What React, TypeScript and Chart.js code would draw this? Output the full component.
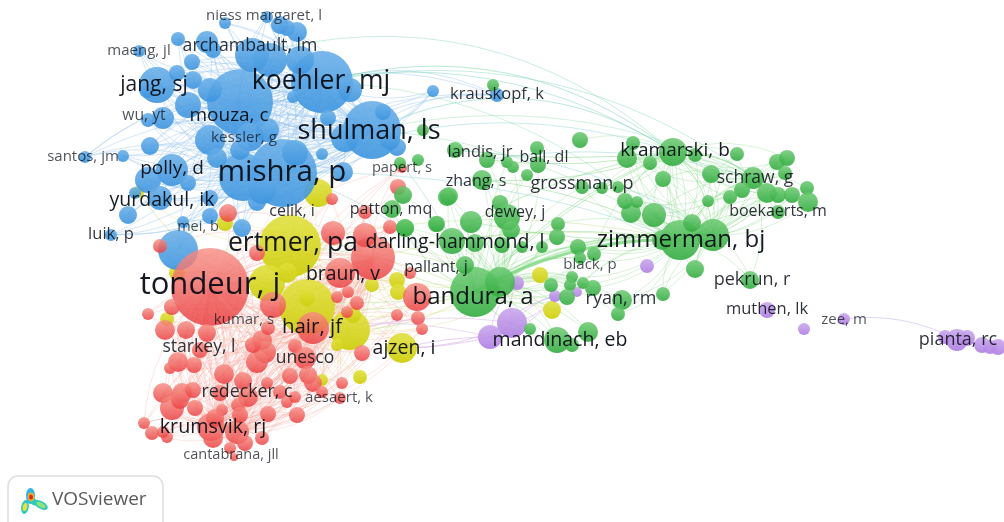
import React, { useEffect, useRef } from "react";
import { Chart, registerables } from "chart.js";

Chart.register(...registerables);

type N = [number, number, number];

// [x, y, weight]; the first entries of each list are the hubs
const blueNodes: N[] = [
  [322, 82, 31], [283, 173, 34], [372, 130, 29], [240, 102, 33], [243, 177, 24], [252, 55, 17], [270, 60, 17],
  [157, 85, 18], [147, 90, 8], [188, 105, 13], [192, 62, 8], [178, 39, 7], [207, 42, 11], [213, 50, 8], [225, 23, 6],
  [267, 17, 6], [280, 25, 9], [287, 28, 8], [297, 32, 10], [139, 51, 6], [177, 73, 8], [193, 80, 9], [163, 118, 11],
  [148, 120, 7], [150, 146, 9], [123, 156, 6], [85, 157, 6], [210, 140, 15], [250, 137, 14], [267, 130, 12],
  [217, 158, 10], [240, 150, 10], [295, 153, 13], [343, 172, 10], [322, 154, 6], [328, 118, 8], [293, 97, 6],
  [350, 90, 12], [383, 112, 8], [397, 147, 9], [433, 91, 6], [497, 95, 7], [172, 170, 16], [148, 180, 13],
  [188, 183, 8], [160, 198, 12], [135, 193, 6], [210, 198, 8], [210, 216, 8], [183, 222, 6], [128, 215, 9],
  [111, 235, 6], [242, 228, 9], [257, 202, 9], [178, 250, 20], [345, 138, 14], [390, 140, 10], [300, 60, 14],
  [210, 90, 12], [262, 190, 14],
];

const redNodes: N[] = [
  [210, 287, 39], [373, 258, 22], [313, 328, 16], [211, 427, 14], [237, 432, 12], [340, 273, 15], [417, 297, 14],
  [273, 305, 13], [348, 292, 6], [337, 297, 6], [357, 303, 7], [347, 312, 6], [397, 315, 6], [418, 318, 7], [422, 329, 6],
  [410, 273, 6], [148, 314, 6], [172, 307, 8], [165, 330, 10], [186, 330, 9], [207, 333, 9], [200, 350, 8],
  [262, 340, 10], [265, 352, 11], [257, 362, 11], [268, 328, 7], [295, 346, 7], [305, 358, 11], [362, 353, 8],
  [178, 362, 10], [194, 365, 8], [170, 368, 6], [224, 374, 10], [290, 376, 8], [308, 375, 9], [313, 383, 9],
  [243, 381, 9], [267, 383, 6], [342, 383, 6], [163, 393, 10], [182, 393, 10], [193, 390, 8], [220, 393, 8],
  [248, 397, 10], [280, 392, 7], [287, 402, 6], [295, 397, 6], [322, 392, 6], [340, 398, 6], [172, 408, 12],
  [195, 408, 8], [222, 410, 6], [238, 405, 7], [240, 415, 8], [268, 414, 8], [297, 415, 8], [144, 423, 6],
  [152, 433, 7], [167, 437, 6], [213, 438, 10], [245, 443, 8], [262, 438, 7], [230, 448, 6], [234, 457, 4],
  [228, 213, 9], [332, 199, 6], [398, 187, 8], [402, 168, 5], [365, 212, 7], [333, 233, 12], [365, 235, 12],
  [390, 227, 7], [160, 246, 7], [257, 253, 8], [180, 400, 9], [215, 418, 9], [163, 432, 6], [253, 345, 8],
];

const greenNodes: N[] = [
  [680, 240, 20], [475, 292, 25], [673, 152, 14], [713, 235, 16], [500, 282, 15], [753, 178, 11],
  [493, 85, 6], [423, 130, 6], [580, 140, 8], [455, 150, 8], [487, 160, 8], [537, 148, 7], [538, 165, 8],
  [507, 162, 6], [513, 167, 6], [527, 175, 6], [400, 163, 6], [418, 160, 6], [482, 180, 10], [449, 196, 9],
  [500, 203, 8], [507, 217, 13], [511, 230, 9], [471, 222, 11], [436, 224, 8], [405, 228, 9], [558, 224, 7],
  [557, 237, 8], [452, 241, 13], [475, 243, 9], [502, 245, 8], [522, 247, 6], [542, 247, 6], [578, 247, 8],
  [594, 254, 7], [580, 258, 6], [465, 265, 9], [572, 277, 6], [551, 285, 7], [570, 285, 6], [583, 283, 6],
  [593, 288, 8], [567, 297, 8], [622, 300, 10], [663, 294, 7], [618, 314, 7], [695, 269, 9], [750, 280, 9],
  [530, 329, 6], [557, 340, 13], [572, 345, 7], [588, 332, 10], [692, 223, 9], [662, 240, 10], [654, 215, 12],
  [631, 213, 10], [625, 201, 8], [637, 202, 6], [663, 179, 8], [627, 158, 10], [650, 163, 7], [633, 143, 7],
  [695, 155, 7], [737, 154, 7], [711, 174, 9], [742, 190, 8], [730, 197, 7], [708, 201, 6], [767, 193, 10],
  [778, 195, 8], [792, 195, 8], [807, 188, 7], [808, 202, 10], [778, 212, 7], [777, 162, 8], [787, 158, 8],
  [785, 173, 7], [582, 187, 7], [602, 188, 6], [618, 187, 6], [403, 195, 9], [392, 209, 9], [405, 228, 9],
  [437, 224, 8], [447, 197, 9],
];

const yellowNodes: N[] = [
  [290, 246, 31], [307, 307, 28], [350, 330, 20], [402, 348, 15], [267, 283, 18], [318, 193, 14], [225, 223, 8],
  [138, 192, 6], [397, 280, 8], [398, 292, 8], [372, 285, 7], [167, 319, 7], [360, 377, 7], [322, 380, 6],
  [177, 273, 8], [287, 273, 10], [353, 315, 8], [337, 345, 6], [540, 275, 8], [552, 310, 9], [307, 298, 8],
];

const purpleNodes: N[] = [
  [512, 323, 15], [490, 337, 12], [647, 266, 7], [517, 283, 7], [555, 296, 6], [577, 292, 5], [767, 310, 8],
  [804, 329, 6], [844, 319, 6], [945, 337, 7], [957, 340, 11], [967, 338, 8], [982, 345, 8], [990, 347, 7], [998, 347, 8],
];

const labelNames: string[] = [
  "niess margaret, l", "maeng, jl", "archambault, lm", "jang, sj", "koehler, mj", "wu, yt", "mouza, c", "kessler, g",
  "shulman, ls", "santos, jm", "polly, d", "mishra, p", "papert, s", "yurdakul, ik", "celik, i", "patton, mq",
  "mei, b", "luik, p", "ertmer, pa", "darling-hammond, l", "tondeur, j", "braun, v", "pallant, j", "bandura, a",
  "kumar, s", "hair, jf", "ajzen, i", "starkey, l", "unesco", "redecker, c", "aesaert, k", "krumsvik, rj",
  "cantabrana, jll", "landis, jr", "ball, dl", "krauskopf, k", "kramarski, b", "zhang, s", "grossman, p", "schraw, g",
  "boekaerts, m", "dewey, j", "zimmerman, bj", "black, p", "pekrun, r", "ryan, rm", "mandinach, eb", "muthen, lk",
  "zee, m", "pianta, rc",
];
const labelX: number[] = [
  264, 139, 250, 154, 321, 144, 229, 244, 369, 83, 172, 282, 402, 162, 292, 391, 198, 111, 293, 455, 210, 343, 436, 473,
  244, 312, 404, 199, 305, 247, 339, 213, 231, 480, 544, 497, 675, 476, 582, 755, 778, 515, 681, 590, 752, 621, 560, 767,
  844, 958,
];
const labelY: number[] = [
  16, 51, 46, 85, 81, 116, 116, 138, 131, 157, 169, 173, 168, 200, 211, 209, 227, 234, 243, 242, 285, 274, 267, 297,
  320, 327, 348, 347, 358, 392, 398, 427, 455, 152, 157, 94, 151, 181, 184, 178, 211, 212, 240, 265, 280, 299, 340, 309,
  320, 340,
];
const labelWeight: number[] = [
  15, 15, 17.7, 21, 26.5, 15.7, 19, 15.3, 27, 15, 19, 29.5, 14.7, 19.5, 16, 16, 14.5, 16.5, 26.5, 19.5, 31, 19.4, 16, 24,
  15, 20.5, 19.5, 17.6, 17.5, 17.8, 15, 19.7, 14.5, 16.5, 16, 16.5, 19, 16, 18, 17.5, 16, 16, 24, 15, 18, 18, 19.5, 16.5,
  15, 18,
];

const brand = "VOSviewer";

const clusters = [
  { nodes: yellowNodes, top: "rgba(224,224,60,0.88)", bottom: "rgba(206,206,14,0.95)", link: "rgba(214,214,110,0.3)", hubs: 3, reach: 999, order: 5 },
  { nodes: blueNodes, top: "rgba(104,174,232,0.88)", bottom: "rgba(60,148,222,0.9)", link: "rgba(150,195,238,0.42)", hubs: 5, reach: 999, order: 4 },
  { nodes: redNodes, top: "rgba(246,140,130,0.8)", bottom: "rgba(234,62,64,0.84)", link: "rgba(245,165,155,0.3)", hubs: 5, reach: 999, order: 3 },
  { nodes: purpleNodes, top: "rgba(200,165,236,0.88)", bottom: "rgba(176,128,226,0.92)", link: "rgba(205,170,235,0.5)", hubs: 2, reach: 120, order: 2 },
  { nodes: greenNodes, top: "rgba(104,200,110,0.84)", bottom: "rgba(50,172,64,0.9)", link: "rgba(140,218,140,0.34)", hubs: 6, reach: 130, order: 1 },
];

// links between clusters: from, to, bend, colour, width
const bridges: [N, N, number, string, number][] = [
  [greenNodes[2], blueNodes[0], 0.25, "rgba(130,215,170,0.55)", 1],
  [greenNodes[2], blueNodes[2], 0.28, "rgba(130,215,190,0.55)", 1],
  [greenNodes[2], blueNodes[1], 0.2, "rgba(150,215,215,0.5)", 1],
  [greenNodes[2], blueNodes[3], 0.24, "rgba(130,215,190,0.5)", 1],
  [greenNodes[2], blueNodes[5], 0.27, "rgba(130,215,190,0.45)", 1],
  [greenNodes[5], blueNodes[0], 0.22, "rgba(130,215,190,0.45)", 1],
  [greenNodes[5], blueNodes[2], 0.18, "rgba(150,225,180,0.45)", 1],
  [greenNodes[0], blueNodes[2], 0.14, "rgba(150,225,180,0.45)", 1],
  [greenNodes[0], blueNodes[0], 0.2, "rgba(150,225,180,0.45)", 1],
  [greenNodes[0], blueNodes[1], 0.1, "rgba(150,215,215,0.5)", 1],
  [greenNodes[2], greenNodes[1], 0.1, "rgba(140,218,140,0.5)", 1],
  [greenNodes[2], greenNodes[9], -0.06, "rgba(140,218,140,0.55)", 1],
  [greenNodes[2], greenNodes[10], -0.08, "rgba(140,218,140,0.55)", 1],
  [greenNodes[2], greenNodes[18], -0.1, "rgba(140,218,140,0.5)", 1],
  [greenNodes[2], greenNodes[23], 0.08, "rgba(140,218,140,0.5)", 1],
  [greenNodes[0], greenNodes[18], 0.1, "rgba(140,218,140,0.5)", 1],
  [greenNodes[0], greenNodes[28], 0.08, "rgba(140,218,140,0.5)", 1],
  [greenNodes[0], greenNodes[23], -0.06, "rgba(140,218,140,0.5)", 1],
  [greenNodes[3], greenNodes[9], 0.14, "rgba(150,215,215,0.5)", 1],
  [greenNodes[5], greenNodes[10], 0.12, "rgba(150,215,215,0.5)", 1],
  [greenNodes[1], greenNodes[0], -0.14, "rgba(115,212,120,0.75)", 3],
  [greenNodes[1], greenNodes[0], -0.2, "rgba(130,220,130,0.55)", 1.5],
  [greenNodes[1], greenNodes[3], -0.16, "rgba(130,220,130,0.55)", 1.5],
  [greenNodes[1], greenNodes[2], -0.12, "rgba(130,220,130,0.5)", 1],
  [greenNodes[1], blueNodes[1], 0.14, "rgba(170,210,210,0.5)", 1],
  [greenNodes[1], blueNodes[2], 0.1, "rgba(170,210,210,0.5)", 1],
  [greenNodes[1], redNodes[0], -0.1, "rgba(175,225,150,0.5)", 1],
  [greenNodes[1], redNodes[1], -0.1, "rgba(175,225,150,0.5)", 1],
  [greenNodes[1], yellowNodes[0], 0.1, "rgba(190,225,140,0.5)", 1],
  [greenNodes[1], yellowNodes[1], -0.1, "rgba(190,225,140,0.5)", 1],
  [greenNodes[1], yellowNodes[2], -0.15, "rgba(190,225,140,0.5)", 1],
  [greenNodes[4], yellowNodes[0], 0.12, "rgba(190,225,140,0.5)", 1],
  [greenNodes[0], yellowNodes[0], 0.12, "rgba(190,225,140,0.45)", 1],
  [greenNodes[0], redNodes[1], 0.1, "rgba(190,225,140,0.4)", 1],
  [purpleNodes[1], yellowNodes[3], -0.06, "rgba(215,175,235,0.6)", 1],
  [purpleNodes[1], yellowNodes[3], 0.06, "rgba(215,175,235,0.6)", 1],
  [purpleNodes[0], yellowNodes[3], -0.12, "rgba(215,175,235,0.6)", 1],
  [purpleNodes[0], yellowNodes[2], 0.1, "rgba(215,175,235,0.5)", 1],
  [purpleNodes[1], redNodes[2], 0.1, "rgba(215,175,235,0.45)", 1],
  [purpleNodes[8], purpleNodes[10], -0.16, "rgba(205,190,240,0.65)", 1],
  [yellowNodes[0], blueNodes[1], 0.2, "rgba(220,215,170,0.4)", 1],
  [redNodes[0], blueNodes[1], 0.2, "rgba(240,190,170,0.4)", 1],
  [redNodes[0], yellowNodes[0], 0.2, "rgba(240,190,140,0.4)", 1],
  [redNodes[0], yellowNodes[1], -0.2, "rgba(240,190,140,0.4)", 1],
  [redNodes[3], yellowNodes[1], 0.2, "rgba(240,190,170,0.4)", 1],
  [redNodes[4], yellowNodes[2], 0.2, "rgba(240,190,170,0.4)", 1],
];

const curve = (ctx: CanvasRenderingContext2D, x: any, y: any, a: N, b: N, bend: number) => {
  const ax = x.getPixelForValue(a[0]);
  const ay = y.getPixelForValue(a[1]);
  const bx = x.getPixelForValue(b[0]);
  const by = y.getPixelForValue(b[1]);
  const mx = (ax + bx) / 2 - (by - ay) * bend;
  const my = (ay + by) / 2 + (bx - ax) * bend;
  ctx.beginPath();
  ctx.moveTo(ax, ay);
  ctx.quadraticCurveTo(mx, my, bx, by);
  ctx.stroke();
};

const linksPlugin = {
  id: "links",
  beforeDatasetsDraw(chart: any) {
    const { ctx, scales } = chart;
    ctx.save();
    ctx.lineWidth = 1;
    clusters.forEach((c) => {
      ctx.strokeStyle = c.link;
      c.nodes.forEach((n, i) => {
        for (let h = 0; h < c.hubs; h++) {
          const hub = c.nodes[h];
          if (h !== i && Math.hypot(n[0] - hub[0], n[1] - hub[1]) <= c.reach) {
            curve(ctx, scales.x, scales.y, n, hub, i % 2 ? 0.2 : -0.2);
          }
        }
      });
    });
    bridges.forEach(([a, b, bend, color, w]) => {
      ctx.strokeStyle = color;
      ctx.lineWidth = w;
      curve(ctx, scales.x, scales.y, a, b, bend);
    });
    ctx.restore();
  },
};

const labelsPlugin = {
  id: "nodeLabels",
  afterDatasetsDraw(chart: any) {
    const { ctx, scales } = chart;
    ctx.save();
    ctx.textAlign = "center";
    ctx.textBaseline = "middle";
    labelNames.forEach((t, i) => {
      const w = labelWeight[i];
      ctx.font = `${w}px "Open Sans"`;
      ctx.fillStyle = `rgba(10,14,22,${w >= 19 ? 0.95 : w >= 16 ? 0.85 : 0.72})`;
      ctx.fillText(t, scales.x.getPixelForValue(labelX[i]), scales.y.getPixelForValue(labelY[i]));
    });
    ctx.restore();
  },
};

const blob = (ctx: CanvasRenderingContext2D, x: number, y: number, rx: number, ry: number, rot: number, c: string) => {
  ctx.fillStyle = c;
  ctx.beginPath();
  ctx.ellipse(x, y, rx, ry, rot, 0, Math.PI * 2);
  ctx.fill();
};

const brandPlugin = {
  id: "brand",
  afterDraw(chart: any) {
    const { ctx } = chart;
    ctx.save();
    ctx.strokeStyle = "#dedede";
    ctx.lineWidth = 1.5;
    ctx.fillStyle = "#fff";
    ctx.beginPath();
    ctx.roundRect(8, 476, 155, 60, 10);
    ctx.fill();
    ctx.stroke();
    blob(ctx, 30.5, 496, 4.5, 8, 0, "#2fb6e6");
    blob(ctx, 25, 507, 3.8, 7, 0.15, "#2fc9c0");
    blob(ctx, 41, 505, 7.5, 3.8, 0.5, "#2fc9c0");
    blob(ctx, 34, 502, 5, 3, 0.5, "#2fc9c0");
    blob(ctx, 41, 505, 5, 2.2, 0.5, "#8fe27a");
    blob(ctx, 25, 507, 2.2, 4, 0.2, "#e6e23a");
    blob(ctx, 31, 497, 3.2, 4.4, 0, "#f2b020");
    blob(ctx, 31, 497, 2, 2.6, 0, "#e02a1c");
    ctx.fillStyle = "#5a5a5a";
    ctx.font = '19px "Open Sans"';
    ctx.textAlign = "left";
    ctx.textBaseline = "middle";
    ctx.fillText(brand, 52, 500);
    ctx.restore();
  },
};

export default function App() {
  const ref = useRef<HTMLCanvasElement>(null);
  useEffect(() => {
    document.body.style.margin = "0";
    const shade = (top: string, bottom: string) => (c: any) => {
      const { chart, raw } = c;
      const sy = chart.scales?.y;
      if (!sy || !raw) return bottom;
      const py = sy.getPixelForValue(raw.y);
      if (!Number.isFinite(py)) return bottom;
      const g = chart.ctx.createLinearGradient(0, py - raw.r, 0, py + raw.r);
      g.addColorStop(0, top);
      g.addColorStop(1, bottom);
      return g;
    };
    const chart = new Chart(ref.current!, {
      type: "bubble",
      data: {
        datasets: clusters.map((c) => ({
          data: c.nodes.map(([x, y, r]) => ({ x, y, r })),
          backgroundColor: shade(c.top, c.bottom),
          borderWidth: 0,
          hoverBorderWidth: 0,
          order: c.order,
        })),
      },
      options: {
        animation: false,
        responsive: false,
        devicePixelRatio: 1,
        layout: { padding: 0, autoPadding: false },
        plugins: { legend: { display: false }, tooltip: { enabled: false } },
        scales: {
          x: { type: "linear", display: false, min: 0, max: 1004 },
          y: { type: "linear", display: false, min: 0, max: 522, reverse: true },
        },
      },
      plugins: [linksPlugin, labelsPlugin, brandPlugin],
    } as any);
    return () => chart.destroy();
  }, []);
  return (
    <canvas
      ref={ref}
      width={1004}
      height={522}
      style={{ display: "block", width: 1004, height: 522, filter: "blur(0.5px)" }}
    />
  );
}
